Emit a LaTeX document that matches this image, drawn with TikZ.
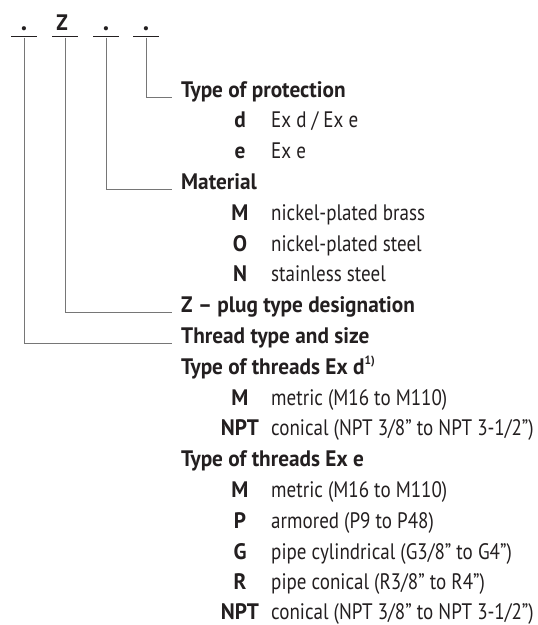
\documentclass[tikz,border=0pt]{standalone}
\usepackage{fontspec}
\setmainfont{PT Sans}[FakeStretch=0.85]
\newfontfamily\hdfont{PT Sans}[FakeStretch=0.95]
\definecolor{linegray}{HTML}{767676}
\definecolor{ink}{HTML}{231F20}
\begin{document}
\begin{tikzpicture}[x=1pt,y=-1pt,
  every node/.style={text=ink},
  hd/.style={font=\hdfont\fontsize{22.4}{26}\selectfont\bfseries, inner sep=0, anchor=base west},
  code/.style={font=\hdfont\fontsize{22.4}{26}\selectfont\bfseries, inner sep=0, anchor=base},
  dotmark/.style={font=\hdfont\fontsize{27}{30}\selectfont\bfseries, inner sep=0, anchor=base},
  desc/.style={font=\fontsize{22.4}{26}\selectfont, inner sep=0, anchor=base west},
  bar/.style={fill=ink, inner sep=0, minimum width=26pt, minimum height=1.8pt, draw=none},
  lead/.style={draw=linegray, line width=1pt, shorten >=9pt},
]
\useasboundingbox (0,0) rectangle (538,625);
% header
\node[dotmark] (p1) at (24,30.5) {.};
\node[code] (pz) at (62,30) {Z};
\node[dotmark] (p3) at (106,30.5) {.};
\node[dotmark] (p4) at (146,30.5) {.};
\node[bar] (b1) at (24,36.5) {};
\node[bar] (b2) at (65,36.5) {};
\node[bar] (b3) at (106,36.5) {};
\node[bar] (b4) at (146,36.5) {};
% headings and entries
\node[hd] (hP) at (181,97.0) {Type of protection};
\node[code] (c1) at (240,127.8) {d};   \node[desc] (d1) at (271,127.8) {Ex d / Ex e};
\node[code] (c2) at (240,158.6) {e};   \node[desc] (d2) at (271,158.6) {Ex e};
\node[hd] (hM) at (181,189.4) {Material};
\node[code] (c3) at (240,220.2) {M};   \node[desc] (d3) at (271,220.2) {nickel-plated brass};
\node[code] (c4) at (240,251.0) {O};   \node[desc] (d4) at (271,251.0) {nickel-plated steel};
\node[code] (c5) at (240,281.8) {N};   \node[desc] (d5) at (271,281.8) {stainless steel};
\node[hd] (hZ) at (181,312.6) {Z – plug type designation};
\node[hd] (hT) at (181,343.4) {Thread type and size};
\node[hd] (hD) at (181,374.2) {Type of threads Ex d\raisebox{0.42em}{\fontsize{12}{12}\selectfont 1)}};
\node[code] (c6) at (240,405.0) {M};   \node[desc] (d6) at (271,405.0) {metric (M16 to M110)};
\node[code] (c7) at (240,435.8) {NPT}; \node[desc] (d7) at (271,435.8) {conical (NPT 3/8” to NPT 3-1/2”)};
\node[hd] (hE) at (181,466.6) {Type of threads Ex e};
\node[code] (c8) at (240,497.4) {M};   \node[desc] (d8) at (271,497.4) {metric (M16 to M110)};
\node[code] (c9) at (240,528.2) {P};   \node[desc] (d9) at (271,528.2) {armored (P9 to P48)};
\node[code] (c10) at (240,559.0) {G};  \node[desc] (d10) at (271,559.0) {pipe cylindrical (G3/8” to G4”)};
\node[code] (c11) at (240,589.6) {R};  \node[desc] (d11) at (271,589.6) {pipe conical (R3/8” to R4”)};
\node[code] (c12) at (240,619.2) {NPT}; \node[desc] (d12) at (271,619.2) {conical (NPT 3/8” to NPT 3-1/2”)};
% leaders
\draw[lead] (b4.south) |- (hP.base west);
\draw[lead] (b3.south) |- (hM.base west);
\draw[lead] (b2.south) |- (hZ.base west);
\draw[lead] (b1.south) |- (hT.base west);
\end{tikzpicture}
\end{document}
